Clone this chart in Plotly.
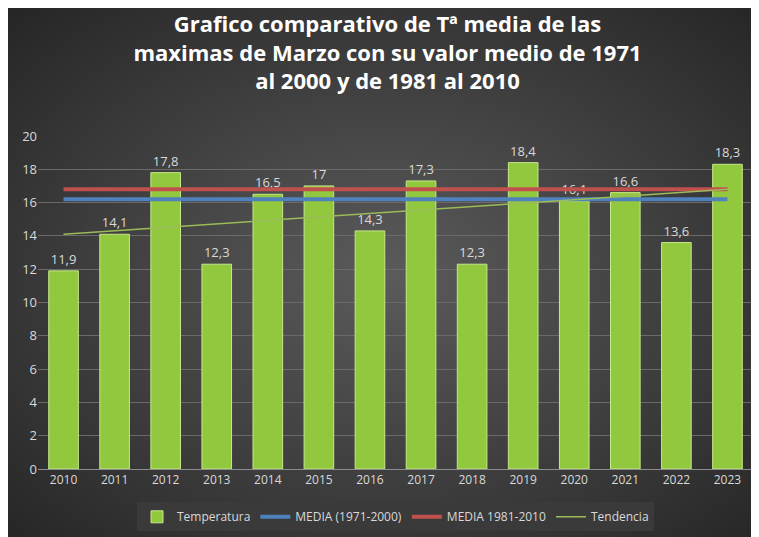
import plotly.graph_objects as go
import base64

years = ["2010", "2011", "2012", "2013", "2014", "2015", "2016", "2017", "2018", "2019", "2020", "2021", "2022", "2023"]
temperatura = [11.9, 14.1, 17.8, 12.3, 16.5, 17, 14.3, 17.3, 12.3, 18.4, 16.1, 16.6, 13.6, 18.3]
etiquetas = ["11,9", "14,1", "17,8", "12,3", "16,5", "17", "14,3", "17,3", "12,3", "18,4", "16,1", "16,6", "13,6", "18,3"]
media_1971_2000 = 16.2
media_1981_2010 = 16.8
tendencia_ini, tendencia_fin = 14.1, 16.8

W, H = 759, 537
ML, MR, MT, MB = 30, 14, 128, 76
pw, ph = W - ML - MR, H - MT - MB

# fondo degradado radial como en Excel
svg = """<svg xmlns='http://www.w3.org/2000/svg' width='759' height='537' preserveAspectRatio='none'>
<defs><radialGradient id='g' cx='50%' cy='50%' r='70%'>
<stop offset='0%' stop-color='#5b5b5b'/><stop offset='100%' stop-color='#262626'/>
</radialGradient></defs><rect width='759' height='537' fill='url(#g)'/></svg>"""
fondo = "data:image/svg+xml;base64," + base64.b64encode(svg.encode()).decode()

fig = go.Figure()
fig.add_trace(go.Bar(
    x=years, y=temperatura, name="Temperatura",
    text=etiquetas, textposition="outside", cliponaxis=False,
    textfont=dict(color="#d9d9d9", size=13),
    marker=dict(color="#92c83e", line=dict(color="#c5e88a", width=1)),
    width=0.58,
))
fig.add_trace(go.Scatter(x=years, y=[media_1971_2000] * len(years), mode="lines",
                         name="MEDIA (1971-2000)", line=dict(color="#4f81bd", width=4)))
fig.add_trace(go.Scatter(x=years, y=[media_1981_2010] * len(years), mode="lines",
                         name="MEDIA 1981-2010", line=dict(color="#c0504d", width=4)))
fig.add_trace(go.Scatter(x=[years[0], years[-1]], y=[tendencia_ini, tendencia_fin], mode="lines",
                         name="Tendencia", line=dict(color="#9bbb59", width=1.5)))

fig.update_layout(
    width=W, height=H,
    paper_bgcolor="#3a3a3a", plot_bgcolor="rgba(0,0,0,0)",
    images=[dict(source=fondo, xref="paper", yref="paper",
                 x=-ML / pw, y=1 + MT / ph, sizex=W / pw, sizey=H / ph,
                 xanchor="left", yanchor="top", sizing="stretch", layer="below")],
    font=dict(family="Open Sans, Calibri, sans-serif", color="#d9d9d9", size=13),
    title=dict(text="<b>Grafico comparativo de Tª media de las<br>maximas de Marzo con su valor medio de 1971<br>al 2000 y de 1981 al 2010</b>",
               x=0.5, xanchor="center", y=0.955, yanchor="top", font=dict(size=22, color="white")),
    margin=dict(l=ML, r=MR, t=MT, b=MB),
    showlegend=True,
    legend=dict(orientation="h", x=0.5, xanchor="center", y=-0.1, yanchor="top",
                font=dict(size=12, color="#d9d9d9")),
    xaxis=dict(showgrid=False, linecolor="#8c8c8c", ticks="", tickfont=dict(size=12)),
    yaxis=dict(range=[0, 20], dtick=2, gridcolor="#6a6a6a", zeroline=False,
               tickfont=dict(size=13)),
)
fig.write_html("out.html")
